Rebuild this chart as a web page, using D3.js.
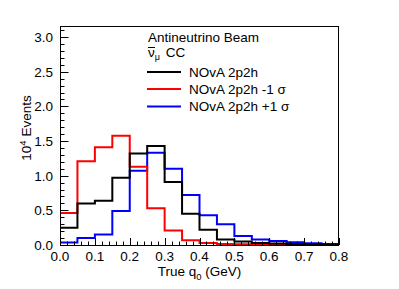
<!DOCTYPE html>
<html><head><meta charset="utf-8">
<script src="https://cdn.jsdelivr.net/npm/d3@7"></script>
<style>
html,body{margin:0;padding:0;background:#fff;}
svg{display:block;}
text{font-family:"Liberation Sans",Arial,Helvetica,sans-serif;}
</style></head>
<body>
<script>
// ---- data ----
const binEdges = [0,0.05,0.1,0.15,0.2,0.25,0.3,0.35,0.4,0.45,0.5,0.55,0.6,0.65,0.7,0.75,0.8];
const nominal = [0.25,0.60,0.64,0.97,1.32,1.43,0.91,0.45,0.22,0.08,0.05,0.03,0.022,0.015,0.01,0.008];
const minus1 = [0.46,1.21,1.41,1.575,1.13,0.53,0.21,0.07,0.03,0.015,0.01,0.008,0.005,0.004,0.003,0.002];
const plus1 = [0.035,0.10,0.15,0.49,1.07,1.33,1.10,0.72,0.43,0.30,0.13,0.08,0.058,0.04,0.025,0.015];
const xTicks = [0,0.1,0.2,0.3,0.4,0.5,0.6,0.7,0.8];
const yTicks = [0,0.5,1.0,1.5,2.0,2.5,3.0];
const seriesNames = ["NOvA 2p2h","NOvA 2p2h -1 σ","NOvA 2p2h +1 σ"];
const seriesColors = ["#000000","#ff0000","#0000ff"];

const W=399,H=289;
const L=60,R=339,T=26,B=245;
const svg=d3.select("body").append("svg").attr("width",W).attr("height",H);
const x=d3.scaleLinear().domain([0,0.8]).range([L,R]);
const y=d3.scaleLinear().domain([0,3.16]).range([B,T]);
const fs=13.5;

// histograms
function stepPath(vals){
  const pts=[[binEdges[0],0]];
  vals.forEach((v,i)=>{pts.push([binEdges[i],v]);pts.push([binEdges[i+1],v]);});
  pts.push([binEdges[vals.length],0]);
  return d3.line().x(d=>x(d[0])).y(d=>y(d[1]))(pts);
}
const clip=svg.append("clipPath").attr("id","c").append("rect").attr("x",L).attr("y",T).attr("width",R-L).attr("height",B-T);
[[plus1,2],[minus1,1],[nominal,0]].forEach(([v,k])=>{
  svg.append("path").attr("d",stepPath(v)).attr("fill","none")
    .attr("stroke",seriesColors[k]).attr("stroke-width",2).attr("clip-path","url(#c)");
});

// frame
svg.append("rect").attr("x",L+0.5).attr("y",T+0.5).attr("width",R-L-1).attr("height",B-T)
  .attr("fill","none").attr("stroke","#000").attr("stroke-width",1);

// x axis ticks (inside)
const xMinor=d3.range(0,0.8001,0.02);
svg.append("g").selectAll("line").data(xMinor).join("line")
  .attr("x1",d=>Math.round(x(d))+0.5).attr("x2",d=>Math.round(x(d))+0.5)
  .attr("y1",B).attr("y2",(d,i)=>i%5===0?B-7:B-3.5)
  .attr("stroke","#000").attr("stroke-width",1);
svg.append("g").selectAll("text").data(xTicks).join("text")
  .attr("x",d=>x(d)).attr("y",261).attr("text-anchor","middle")
  .attr("font-size",fs).text(d=>d.toFixed(1));

// y axis ticks
const yMinor=d3.range(0,3.1501,0.1);
svg.append("g").selectAll("line").data(yMinor).join("line")
  .attr("y1",d=>Math.round(y(d))+0.5).attr("y2",d=>Math.round(y(d))+0.5)
  .attr("x1",L).attr("x2",(d,i)=>i%5===0?L+8.5:L+4.5)
  .attr("stroke","#000").attr("stroke-width",1);
svg.append("g").selectAll("text").data(yTicks).join("text")
  .attr("x",53).attr("y",d=>y(d)+5).attr("text-anchor","end")
  .attr("font-size",fs).text(d=>d.toFixed(1));

// axis titles
const xt=svg.append("text").attr("x",(L+R)/2).attr("y",276).attr("text-anchor","middle").attr("font-size",fs);
xt.append("tspan").text("True q");
xt.append("tspan").attr("font-size",9.5).attr("dy",4).text("0");
xt.append("tspan").attr("dy",-4).text(" (GeV)");

const yt=svg.append("text").attr("transform","translate(31,128) rotate(-90)").attr("text-anchor","middle").attr("font-size",fs);
yt.append("tspan").text("10");
yt.append("tspan").attr("font-size",9.5).attr("dy",-5).text("4");
yt.append("tspan").attr("dy",5).text(" Events");

// legend
svg.append("text").attr("x",148).attr("y",42).attr("font-size",fs).text("Antineutrino Beam");
const nu=svg.append("text").attr("x",148).attr("y",57).attr("font-size",fs);
nu.append("tspan").text("ν");
nu.append("tspan").attr("font-size",9).attr("dy",3).text("μ");
nu.append("tspan").attr("dy",-3).attr("dx",2).text(" CC");
svg.append("line").attr("x1",148).attr("x2",155).attr("y1",47.5).attr("y2",47.5).attr("stroke","#000").attr("stroke-width",1);

const ly=[72,89,106.5];
seriesNames.forEach((n,i)=>{
  svg.append("line").attr("x1",147).attr("x2",181).attr("y1",ly[i]).attr("y2",ly[i])
    .attr("stroke",seriesColors[i]).attr("stroke-width",2);
  svg.append("text").attr("x",189).attr("y",ly[i]+4.5).attr("font-size",fs).text(n);
});
</script>
</body></html>
